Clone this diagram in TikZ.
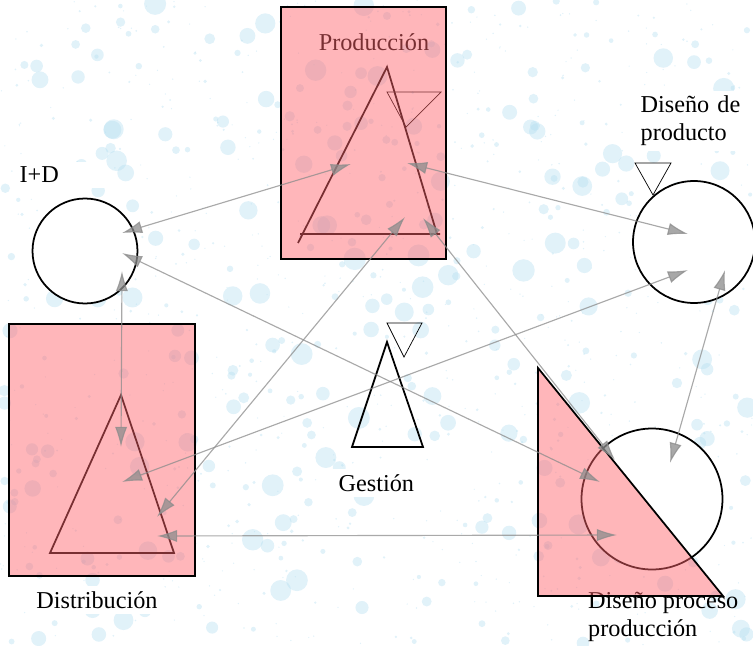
\documentclass[tikz,border=0pt]{standalone}
\usepackage{fontspec}
\setmainfont{Liberation Serif}
\usetikzlibrary{arrows.meta}
\definecolor{rosa}{RGB}{255,100,108}
\definecolor{gota}{RGB}{180,222,240}
\definecolor{flecha}{RGB}{140,140,140}
\begin{document}
\begin{tikzpicture}[x=0.02cm,y=-0.02cm,>={Latex[length=11.5pt,width=7pt]},
  every node/.style={font=\fontsize{13.8}{16}\selectfont},
  area/.style={fill=rosa,fill opacity=.47},
  rotulo/.style={fill=white,align=left,inner sep=3pt},
  bola/.style={circle,draw,fill=white,line width=1pt,inner sep=0pt},
  tri/.style={line width=1pt,line join=miter},
  enlace/.style={<->,flecha,opacity=.75,line width=.65pt}]
\useasboundingbox (0,0) rectangle (753,645);
% fondo salpicado
\pgfmathsetseed{11}
\foreach \i in {1,...,1100}{
  \pgfmathsetmacro\px{rnd*753}
  \pgfmathsetmacro\py{rnd*645}
  \pgfmathsetmacro\r{0.4+6*rnd^5}
  \fill[gota,opacity=.4] (\px,\py) circle (\r pt);
}
\path
(85,251)  node[bola,minimum size=2.1cm]  (id) {}
(694,242) node[bola,minimum size=2.44cm] (dp) {}
(652,499) node[bola,minimum size=2.82cm] (dpp) {}
(14,175)  node[rotulo,anchor=west,text width=1.6cm] (tid) {I+D}
(374,42)  node (tprod) {Producción}
(97,600)  node[rotulo] (tdist) {Distribución}
(333,483) node[rotulo,anchor=west,text width=2.2cm] (tges) {Gestión}
(635,121) node[rotulo,anchor=west,text width=2.1cm] (tdp) {Diseño de\\producto}
(582,617) node[anchor=west,align=left] (tdpp) {Diseño proceso\\producción};
\draw[tri] (298,243)--(387,67)--(437,234) (300,234)--(440,234);
\draw (387,92)--(441,92)--(406,127)--cycle;
\draw[tri] (121,395)--(174,553)--(50,553)--cycle;
\draw[tri] (387,342)--(423,447)--(352,447)--cycle;
\draw (387,323)--(422,323)--(404,357)--cycle;
\draw (635,163)--(671,163)--(653,195)--cycle;
\node[draw,area,line width=.7pt,minimum width=3.3cm,minimum height=5.04cm] (prod) at (363.5,133) {};
\node[draw,area,line width=.7pt,minimum width=3.72cm,minimum height=5.04cm] (dist) at (102,450) {};
\fill[area] (538,368)--(538,596)--(723,596)--cycle;
\draw[line width=1pt] (538,368)--(538,596)--(723,596)--cycle;
\path
(122,233) coordinate (id1) (351,164) coordinate (pr1)
(407,163) coordinate (pr2) (688,234) coordinate (dp1)
(405,217) coordinate (pr3) (157,517) coordinate (di1)
(423,218) coordinate (pr4) (615,460) coordinate (dpp1)
(122,271) coordinate (id2) (121,447) coordinate (di2)
(122,253) coordinate (id3) (600,482) coordinate (dpp2)
(122,482) coordinate (di3) (688,270) coordinate (dp2)
(157,536) coordinate (di4) (617,535) coordinate (dpp3)
(725,270) coordinate (dp3) (670,463) coordinate (dpp4);
\draw[enlace] (id1)--(pr1);
\draw[enlace] (pr2)--(dp1);
\draw[enlace] (pr3)--(di1);
\draw[enlace] (pr4)--(dpp1);
\draw[enlace] (id2)--(di2);
\draw[enlace] (id3)--(dpp2);
\draw[enlace] (di3)--(dp2);
\draw[enlace] (di4)--(dpp3);
\draw[enlace] (dp3)--(dpp4);
\end{tikzpicture}
\end{document}
